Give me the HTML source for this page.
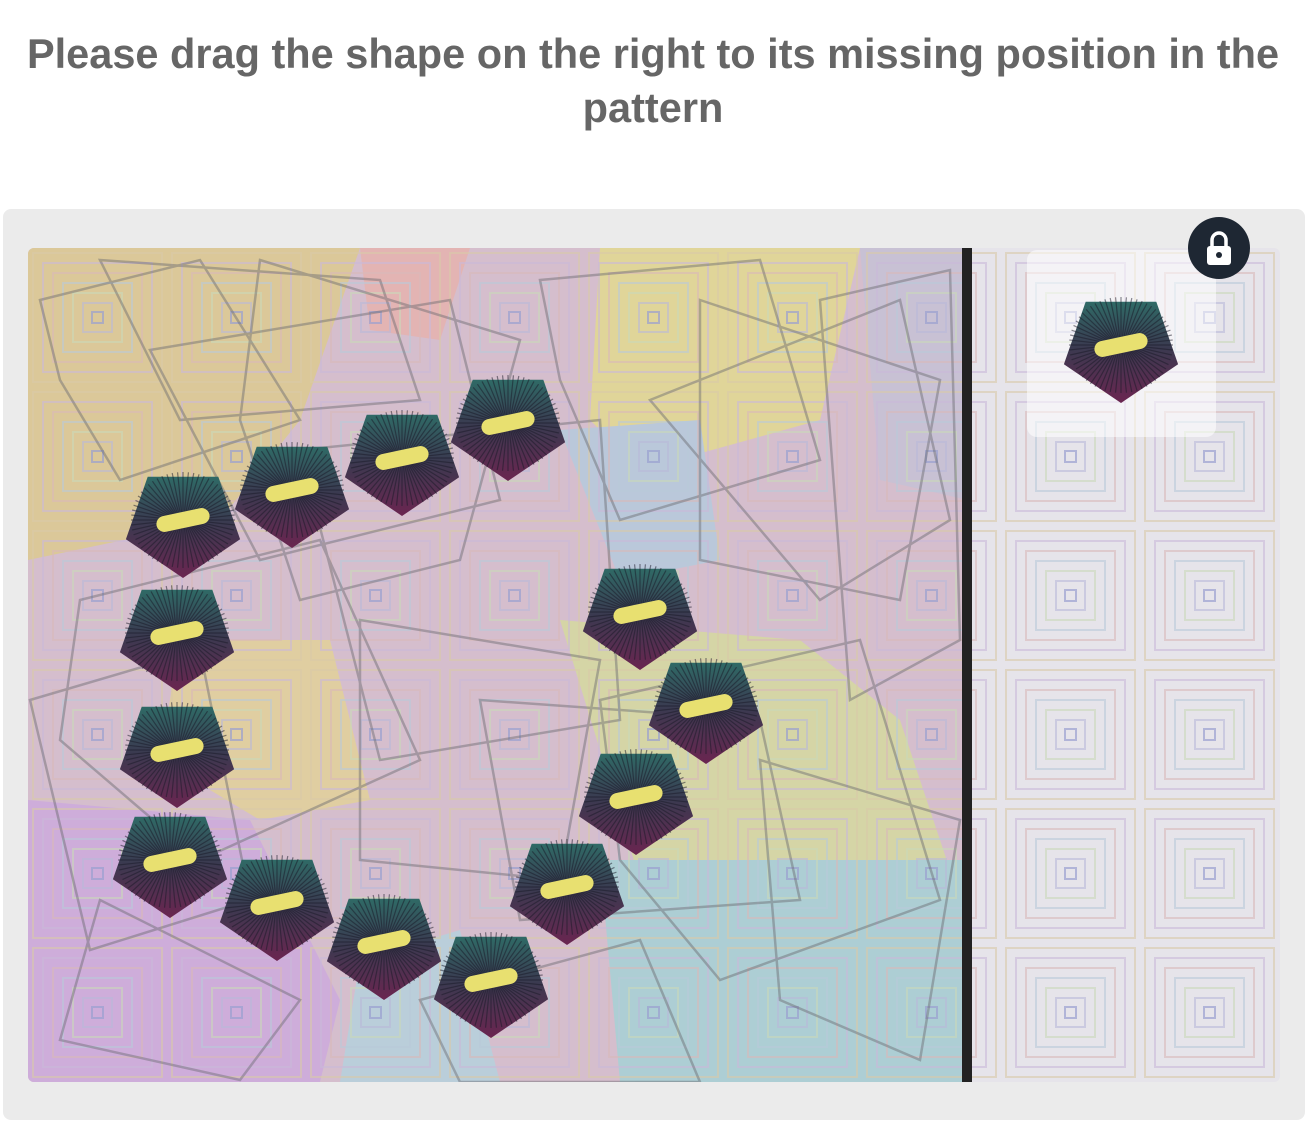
<!DOCTYPE html>
<html><head><meta charset="utf-8"><style>
body{margin:0;width:1306px;height:1124px;background:#fff;overflow:hidden;font-family:"Liberation Sans",sans-serif;position:relative}
#title{position:absolute;left:0;top:27px;width:1306px;text-align:center;font-weight:bold;font-size:41.5px;line-height:54px;color:#666}
#panel{position:absolute;left:3px;top:209px;width:1302px;height:911px;background:#ebebeb;border-radius:8px}
svg{position:absolute;left:0;top:0}
</style></head><body>
<div id="title">Please drag the shape on the right to its missing position in the<br>pattern</div>
<div id="panel"></div>
<svg id="s" width="1306" height="1124">
<defs>
<pattern id="sq" x="28" y="248" width="139" height="139" patternUnits="userSpaceOnUse">
<g fill="none" stroke-width="2">
<rect x="5" y="5" width="129" height="129" stroke="#d9c9a8" opacity=".6"/>
<rect x="15" y="15" width="109" height="109" stroke="#c9b9d9" opacity=".6"/>
<rect x="25" y="25" width="89" height="89" stroke="#d9b9b9" opacity=".6"/>
<rect x="35" y="35" width="69" height="69" stroke="#b9c9d9" opacity=".6"/>
<rect x="45" y="45" width="49" height="49" stroke="#c9d9b9" opacity=".6"/>
<rect x="55" y="55" width="29" height="29" stroke="#b9b9d9" opacity=".6"/>
<rect x="64" y="64" width="11" height="11" stroke="#9aa0d0" opacity=".7"/>
</g></pattern>
<linearGradient id="pg" x1="0" y1="0" x2="0" y2="1">
<stop offset="0" stop-color="#2f6a66"/><stop offset=".45" stop-color="#3a3a50"/><stop offset="1" stop-color="#6a2550"/></linearGradient>
<clipPath id="img"><rect x="28" y="248" width="1252" height="834" rx="6"/></clipPath>
</defs>
<g clip-path="url(#img)">
<rect x="28" y="248" width="940" height="834" fill="#d8bcd0"/>
<polygon points="28,248 360,248 300,420 220,520 28,560" fill="#e0c890"/>
<polygon points="360,248 470,248 440,340 370,330" fill="#eab0b0"/>
<polygon points="600,248 860,248 820,420 640,470 590,420" fill="#e6d890"/>
<polygon points="860,248 968,248 968,500 880,480" fill="#c8c0d8"/>
<polygon points="560,620 800,640 900,720 960,900 968,1082 700,1082 640,880" fill="#d8d8a0"/>
<polygon points="600,860 968,860 968,1082 620,1082" fill="#a8d0d8"/>
<polygon points="28,800 250,820 340,1000 320,1082 28,1082" fill="#d0a8e0"/>
<polygon points="180,640 330,640 370,800 260,820 160,760" fill="#e6d09a"/>
<polygon points="560,430 700,420 720,560 620,580" fill="#b8c8e0"/>
<polygon points="360,960 460,930 500,1082 340,1082" fill="#b8d0e0"/>
<rect x="28" y="248" width="940" height="834" fill="#c8c8c0" opacity=".18"/>
<rect x="968" y="248" width="312" height="834" fill="#e6e4ea"/>
<rect x="28" y="248" width="1252" height="834" fill="url(#sq)"/>
<g id="lines" fill="none" stroke="#6a6a70" stroke-width="2.5" opacity=".45"></g>
<rect x="962" y="248" width="10" height="834" fill="#222"/>
</g>
<rect x="1027" y="250" width="189" height="187" rx="10" fill="#fff" opacity=".55"/>
<g id="shapes"></g>
<g>
<circle cx="1219" cy="248" r="31" fill="#1e2733"/>
<rect x="1207" y="246" width="24" height="19" rx="3" fill="#fff"/>
<path d="M1212 246 v-6 a7 7 0 0 1 14 0 v6" fill="none" stroke="#fff" stroke-width="3.5"/>
<circle cx="1219" cy="255" r="3" fill="#1e2733"/>
</g>
</svg>
<script>
const NS="http://www.w3.org/2000/svg";
const centersX=[183,292,402,508,640,706,636,567,491,384,277,170,177,177];
const centersY=[520,490,458,423,612,706,797,887,980,942,903,860,750,633];
const pieceX=1121, pieceY=345;
const lineData=[[40,300,200,260,300,420,120,480,60,380],[260,260,520,340,460,560,300,600,240,420],[540,280,760,260,820,460,620,520,560,380],[700,300,940,380,900,600,700,560],[80,600,320,540,420,760,200,860,60,740],[360,620,600,660,560,880,360,860],[600,700,860,640,940,900,720,980,620,860],[100,900,300,1000,240,1080,60,1040],[420,1000,640,940,700,1082,460,1082],[760,760,960,820,920,1060,780,1000],[150,350,450,300,500,500,260,560],[650,400,900,300,950,520,820,600],[30,700,200,650,250,900,90,950],[300,450,600,420,620,720,380,760],[100,260,380,280,420,400,180,420],[480,700,760,720,800,900,520,920],[820,300,950,270,960,640,850,700]];
const lg=document.getElementById('lines');
lineData.forEach(p=>{const pl=document.createElementNS(NS,'polygon');
pl.setAttribute('points',p.join(' '));


lg.appendChild(pl);});
function shape(cx,cy,name,inter){
const g=document.createElementNS(NS,'g');


const P=[];for(let i=0;i<5;i++){const a=Math.PI/2+i*2*Math.PI/5;P.push((cx+60*Math.cos(a)).toFixed(1)+','+(cy+56*Math.sin(a)+2).toFixed(1));}
const poly=document.createElementNS(NS,'polygon');
poly.setAttribute('points',P.join(' '));poly.setAttribute('fill','url(#pg)');
g.appendChild(poly);
for(let i=0;i<60;i++){const a=i*2*Math.PI/60;const l=document.createElementNS(NS,'line');
l.setAttribute('x1',cx+14*Math.cos(a));l.setAttribute('y1',cy+8*Math.sin(a));
l.setAttribute('x2',cx+52*Math.cos(a));l.setAttribute('y2',cy+48*Math.sin(a));
l.setAttribute('stroke','#1a1a28');l.setAttribute('stroke-width','1.2');l.setAttribute('opacity','.5');g.appendChild(l);}
const e=document.createElementNS(NS,'rect');
e.setAttribute('x',cx-27);e.setAttribute('y',cy-8);e.setAttribute('width',54);e.setAttribute('height',16);e.setAttribute('rx',8);
e.setAttribute('fill','#e8e070');e.setAttribute('transform','rotate(-12 '+cx+' '+cy+')');g.appendChild(e);
document.getElementById('shapes').appendChild(g);}
centersX.forEach((x,i)=>shape(x,centersY[i],'pattern-shape','false'));
shape(pieceX,pieceY,'draggable-piece','true');
</script>
</body></html>
